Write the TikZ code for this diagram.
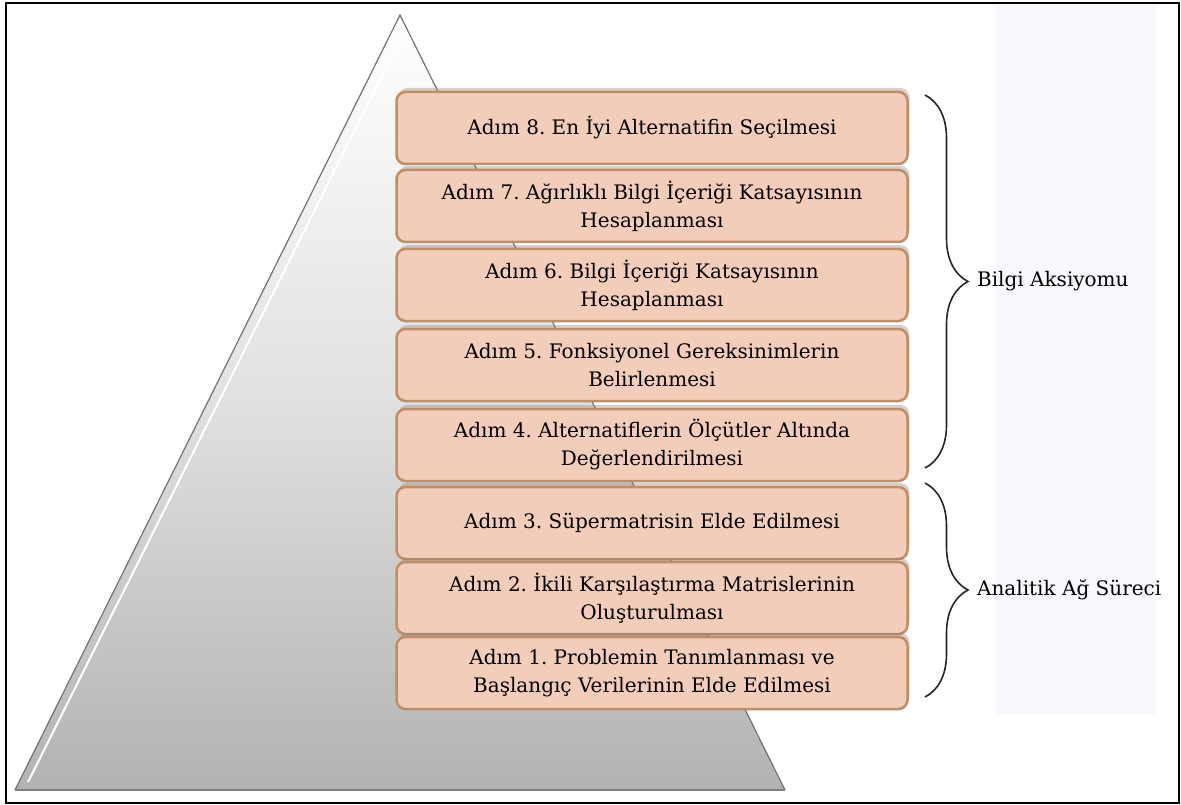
\documentclass[tikz,border=0pt]{standalone}
\usepackage{fontspec}
\setmainfont{DejaVu Serif}
\usetikzlibrary{shadows, decorations.pathreplacing}
\definecolor{peach}{HTML}{F2CDBA}
\definecolor{peachline}{HTML}{C38D63}
\definecolor{panel}{HTML}{F8F9FC}
\tikzstyle{adimbox} = [rectangle, rounded corners=9, minimum width=511, minimum height=72, align=center, draw=peachline, line width=2.5, fill=peach, font=\fontsize{20}{28}\selectfont, drop shadow={shadow xshift=2, shadow yshift=-4, opacity=0.35}]
\tikzstyle{brace} = [decorate, decoration={brace, amplitude=43}, line width=1.6, black!85]
\tikzstyle{label} = [anchor=west, text=black, font=\fontsize{20}{24}\selectfont]
\frenchspacing

\begin{document}
\begin{tikzpicture}[x=1pt, y=-1pt]
\useasboundingbox (0,0) rectangle (1181,805);
\fill[white] (0,0) rectangle (1181,805);
\fill[panel] (996,3) rectangle (1156,715);
\draw[line width=1.5] (6,3) rectangle (1179,803);
% pyramid
\shade[top color=white, bottom color=black!30, middle color=black!12] (400,15) -- (785,790) -- (15,790) -- cycle;
\draw[black!55, line width=1.2] (785,790) -- (400,15) -- (15,790);
\draw[white, line width=2] (400,40) -- (28,782);
\draw[black!50, line width=2.5] (15,790) -- (785,790);
\node (adim8) [adimbox] at (652, 128) {Adım 8. En İyi Alternatifin Seçilmesi};
\node (adim7) [adimbox] at (652, 206) {Adım 7. Ağırlıklı Bilgi İçeriği Katsayısının\\ Hesaplanması};
\node (adim6) [adimbox] at (652, 285) {Adım 6. Bilgi İçeriği Katsayısının\\ Hesaplanması};
\node (adim5) [adimbox] at (652, 365) {Adım 5. Fonksiyonel Gereksinimlerin\\ Belirlenmesi};
\node (adim4) [adimbox] at (652, 445) {Adım 4. Alternatiflerin Ölçütler Altında\\ Değerlendirilmesi};
\node (adim3) [adimbox] at (652, 523) {Adım 3. Süpermatrisin Elde Edilmesi};
\node (adim2) [adimbox] at (652, 598) {Adım 2. İkili Karşılaştırma Matrislerinin\\ Oluşturulması};
\node (adim1) [adimbox] at (652, 673) {Adım 1. Problemin Tanımlanması ve\\ Başlangıç Verilerinin Elde Edilmesi};
% braces
\coordinate (bilgi1) at (925, 95);
\coordinate (bilgi2) at (925, 468);
\draw [brace] (bilgi1) -- node (bilgi) [label, xshift=48] {Bilgi Aksiyomu} (bilgi2);
\coordinate (aas1) at (925, 483);
\coordinate (aas2) at (925, 697);
\draw [brace] (aas1) -- node (aas) [label, xshift=48] {Analitik Ağ Süreci} (aas2);
\end{tikzpicture}
\end{document}
